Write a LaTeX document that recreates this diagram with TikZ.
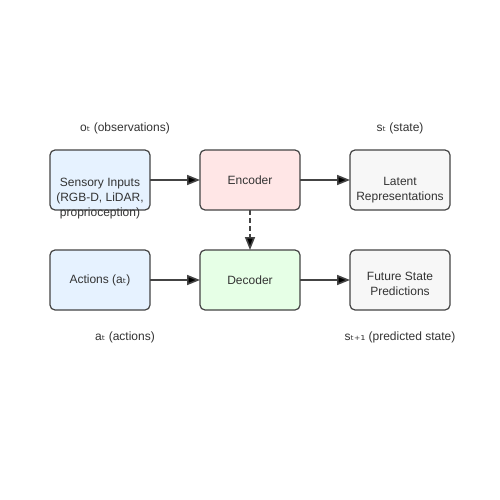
\documentclass[tikz,border=0pt]{standalone}
\usepackage{fontspec}
\setmainfont{Liberation Sans}
\newfontfamily\subfont{DejaVu Sans}
\usetikzlibrary{positioning,arrows.meta}
\definecolor{edgegray}{HTML}{444444}
\definecolor{textgray}{HTML}{333333}
\definecolor{inblue}{HTML}{E6F2FF}
\definecolor{encred}{HTML}{FFE6E6}
\definecolor{decgreen}{HTML}{E6FFE6}
\definecolor{outgray}{HTML}{F7F7F7}
\newcommand{\sub}[1]{{\subfont #1}}
\tikzset{main box/.style={rectangle,rounded corners=5pt,draw=edgegray,line width=1.2pt,minimum width=100pt,minimum height=60pt,inner sep=0pt,outer sep=0pt,text=textgray},
	box text/.style={align=center,text=textgray,inner sep=0pt},
	side label/.style={text=textgray,inner sep=0pt},
	flow/.style={draw=edgegray,line width=1.6pt,-{Triangle[length=13pt,width=10pt]}},
}

\begin{document}
\begin{tikzpicture}[node distance = 50pt, x=1pt, y=-1pt, font=\fontsize{12}{15}\selectfont]
	\useasboundingbox[fill=white] (0,0) rectangle (500,500);
	\node[main box,fill=inblue] (sensory) at (100,180) {};
	\node[main box,fill=encred] (encoder)[right = of sensory]{Encoder};
	\node[main box,fill=outgray] (latent)[right = of encoder]{};
	\node[main box,fill=inblue] (actions)[below = 40pt of sensory]{Actions (a\sub{ₜ})};
	\node[main box,fill=decgreen] (decoder)[below = 40pt of encoder]{Decoder};
	\node[main box,fill=outgray] (future)[below = 40pt of latent]{};
	
	\node[box text] (sensorytext) at ([yshift=-19pt]sensory.center){Sensory Inputs\\(RGB-D, LiDAR,\\proprioception)};
	\node[box text] (latenttext) at ([yshift=-10pt]latent.center){Latent\\Representations};
	\node[box text] (futuretext) at ([yshift=-4pt]future.center){Future State\\Predictions};
	
	\node[side label] (obs)[above = 16pt of sensory, xshift=25pt]{o\sub{ₜ} (observations)};
	\node[side label] (state)[above = 16pt of latent]{s\sub{ₜ} (state)};
	\node[side label] (act)[below = 22pt of actions, xshift=25pt]{a\sub{ₜ} (actions)};
	\node[side label] (pred)[below = 22pt of future]{s\sub{ₜ₊₁} (predicted state)};
	
	\path[flow]
	(sensory) edge (encoder)
	(encoder) edge (latent)
	(actions) edge (decoder)
	(decoder) edge (future)
	(encoder) edge[dash pattern=on 5pt off 3pt] (decoder);
\end{tikzpicture}
\end{document}
